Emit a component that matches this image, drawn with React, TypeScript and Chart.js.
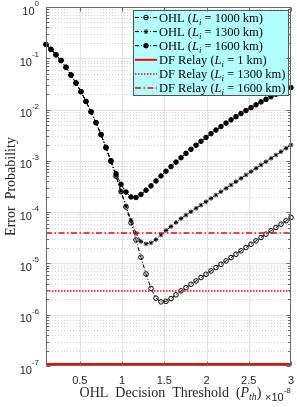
import React, { useEffect, useRef } from 'react';
import { Chart, registerables } from 'chart.js';

Chart.register(...registerables);

const W = 297;
const H = 407;

// OHL decision threshold (x 1e-8)
const thresholds = [
  0.100, 0.159, 0.218, 0.278, 0.337, 0.396, 0.455, 0.514, 0.573, 0.633,
  0.692, 0.751, 0.810, 0.869, 0.929, 0.988, 1.047, 1.106, 1.165, 1.224,
  1.284, 1.343, 1.402, 1.461, 1.520, 1.580, 1.639, 1.698, 1.757, 1.816,
  1.876, 1.935, 1.994, 2.053, 2.112, 2.171, 2.231, 2.290, 2.349, 2.408,
  2.467, 2.527, 2.586, 2.645, 2.704, 2.763, 2.822, 2.882, 2.941, 3.000,
];

const ohl1000 = [
  1.86e-1, 1.49e-1, 1.17e-1, 9.04e-2, 6.67e-2, 4.71e-2, 3.30e-2, 2.24e-2, 1.44e-2, 9.04e-3,
  5.57e-3, 3.26e-3, 1.80e-3, 9.73e-4, 5.01e-4, 2.51e-4, 1.26e-4, 6.17e-5, 2.87e-5, 1.32e-5,
  6.22e-6, 3.25e-6, 2.10e-6, 1.78e-6, 1.82e-6, 2.06e-6, 2.44e-6, 2.92e-6, 3.37e-6, 3.92e-6,
  4.56e-6, 5.30e-6, 6.15e-6, 7.14e-6, 8.30e-6, 9.64e-6, 1.12e-5, 1.30e-5, 1.51e-5, 1.76e-5,
  2.04e-5, 2.37e-5, 2.75e-5, 3.20e-5, 3.72e-5, 4.33e-5, 5.02e-5, 5.83e-5, 6.78e-5, 7.87e-5,
];

const ohl1300 = [
  1.86e-1, 1.49e-1, 1.17e-1, 9.04e-2, 6.67e-2, 4.71e-2, 3.30e-2, 2.24e-2, 1.44e-2, 9.04e-3,
  5.57e-3, 3.26e-3, 1.80e-3, 9.73e-4, 5.04e-4, 2.56e-4, 1.32e-4, 6.97e-5, 3.87e-5, 2.67e-5,
  2.41e-5, 2.52e-5, 2.92e-5, 3.59e-5, 4.39e-5, 5.25e-5, 6.31e-5, 7.50e-5, 8.77e-5, 1.02e-4,
  1.19e-4, 1.37e-4, 1.60e-4, 1.85e-4, 2.15e-4, 2.50e-4, 2.91e-4, 3.38e-4, 3.93e-4, 4.56e-4,
  5.30e-4, 6.17e-4, 7.16e-4, 8.32e-4, 9.64e-4, 1.12e-3, 1.30e-3, 1.51e-3, 1.76e-3, 2.04e-3,
];

const ohl1600 = [
  1.86e-1, 1.49e-1, 1.17e-1, 9.04e-2, 6.67e-2, 4.71e-2, 3.30e-2, 2.24e-2, 1.44e-2, 9.04e-3,
  5.57e-3, 3.26e-3, 1.84e-3, 1.01e-3, 5.62e-4, 3.47e-4, 2.46e-4, 1.98e-4, 1.93e-4, 2.21e-4,
  2.68e-4, 3.25e-4, 4.06e-4, 5.08e-4, 6.28e-4, 7.73e-4, 9.46e-4, 1.15e-3, 1.40e-3, 1.68e-3,
  2.02e-3, 2.41e-3, 2.86e-3, 3.39e-3, 3.99e-3, 4.67e-3, 5.45e-3, 6.31e-3, 7.28e-3, 8.36e-3,
  9.55e-3, 1.09e-2, 1.24e-2, 1.41e-2, 1.58e-2, 1.78e-2, 1.99e-2, 2.21e-2, 2.44e-2, 2.69e-2,
];

// DF relay error probabilities (constant in threshold) for L_i = 1, 1300, 1600 km
const dfRelayLevels = [1.1e-7, 2.9e-6, 3.9e-5];

const xRange = [0.1, 3];
const yRange = [1e-7, 1];
const xTicks = [0.5, 1, 1.5, 2, 2.5, 3];
const xTickLabels = ['0.5', '1', '1.5', '2', '2.5', '3'];
const yDecadeExponents = [0, -1, -2, -3, -4, -5, -6, -7];
const yTickLabels = ['0', '-1', '-2', '-3', '-4', '-5', '-6', '-7'];
const legendNames = ['OHL', 'OHL', 'OHL', 'DF Relay', 'DF Relay', 'DF Relay'];
const legendDistances = ['1000', '1300', '1600', '1', '1300', '1600'];

const SERIF = '"Liberation Serif", "DejaVu Serif", serif';
const SANS = '"Liberation Sans", Arial, sans-serif';
const AXIS_COLOR = '#6a6a6a';
const TEXT_COLOR = '#262626';

type Seg = { t: string; italic?: boolean; sub?: boolean };

function drawRich(ctx: any, x: number, y: number, segs: Seg[], size: number, measureOnly = false): number {
  let cx = x;
  for (const s of segs) {
    const sz = s.sub ? size * 0.7 : size;
    ctx.font = `${s.italic ? 'italic ' : ''}${sz}px ${SERIF}`;
    if (!measureOnly) ctx.fillText(s.t, cx, y + (s.sub ? size * 0.25 : 0));
    cx += ctx.measureText(s.t).width;
  }
  return cx - x;
}

function drawMarker(ctx: any, style: string, x: number, y: number, r: number, filled: boolean) {
  ctx.beginPath();
  ctx.setLineDash([]);
  if (style === 'circle') {
    ctx.arc(x, y, r, 0, Math.PI * 2);
    if (filled) ctx.fill();
    ctx.stroke();
  } else if (style === 'star') {
    ctx.moveTo(x - r, y); ctx.lineTo(x + r, y);
    ctx.moveTo(x, y - r); ctx.lineTo(x, y + r);
    const d = r * Math.SQRT1_2;
    ctx.moveTo(x - d, y - d); ctx.lineTo(x + d, y + d);
    ctx.moveTo(x - d, y + d); ctx.lineTo(x + d, y - d);
    ctx.stroke();
  }
}

const matlabAxes = {
  id: 'matlabAxes',
  beforeDatasetsDraw(chart: any) {
    const { ctx, chartArea: a, scales } = chart;
    const xs = scales.x, ys = scales.y;
    ctx.save();
    ctx.beginPath();
    ctx.rect(a.left, a.top, a.right - a.left, a.bottom - a.top);
    ctx.clip();
    ctx.lineWidth = 1;
    // minor y grid (dotted)
    ctx.strokeStyle = '#d2d2d2';
    ctx.setLineDash([1, 2]);
    for (const e of yDecadeExponents) {
      if (e === 0) continue;
      for (let m = 2; m <= 9; m++) {
        const y = Math.round(ys.getPixelForValue(m * Math.pow(10, e))) + 0.5;
        ctx.beginPath(); ctx.moveTo(a.left, y); ctx.lineTo(a.right, y); ctx.stroke();
      }
    }
    // major grid
    ctx.setLineDash([]);
    ctx.strokeStyle = '#e2e2e2';
    for (const e of yDecadeExponents) {
      const y = Math.round(ys.getPixelForValue(Math.pow(10, e))) + 0.5;
      ctx.beginPath(); ctx.moveTo(a.left, y); ctx.lineTo(a.right, y); ctx.stroke();
    }
    for (const t of xTicks) {
      const x = Math.round(xs.getPixelForValue(t)) + 0.5;
      ctx.beginPath(); ctx.moveTo(x, a.top); ctx.lineTo(x, a.bottom); ctx.stroke();
    }
    ctx.restore();
  },
  afterDatasetsDraw(chart: any) {
    const { ctx, scales } = chart;
    const xs = scales.x, ys = scales.y;
    ctx.save();
    // ---- legend ----
    const lx = 133, ly = 10, lw = 155, lh = 85;
    ctx.fillStyle = '#b3ffff';
    ctx.fillRect(lx, ly, lw, lh);
    ctx.strokeStyle = '#555';
    ctx.lineWidth = 1;
    ctx.setLineDash([]);
    ctx.strokeRect(lx + 0.5, ly + 0.5, lw, lh);
    chart.data.datasets.forEach((ds: any, row: number) => {
      const cy = 17.5 + row * 14.1;
      ctx.save();
      ctx.strokeStyle = ds.borderColor;
      ctx.lineWidth = ds.borderWidth;
      ctx.setLineDash(ds.borderDash || []);
      ctx.beginPath(); ctx.moveTo(135, cy); ctx.lineTo(157, cy); ctx.stroke();
      if (ds.pointRadius > 0) {
        ctx.lineWidth = 1;
        ctx.strokeStyle = '#000';
        ctx.fillStyle = '#000';
        drawMarker(ctx, ds.pointStyle, 146, cy, ds.pointRadius, ds.pointBackgroundColor === '#000');
      }
      ctx.restore();
      ctx.fillStyle = '#000';
      ctx.textBaseline = 'alphabetic';
      ctx.textAlign = 'left';
      drawRich(ctx, 159, cy + 4, [
        { t: `${legendNames[row]} (` },
        { t: 'L', italic: true },
        { t: 'i', italic: true, sub: true },
        { t: ` = ${legendDistances[row]} km)` },
      ], 12.5);
    });

    // ---- axes box ----
    const L = 46.5, R = 290.5, T = 7.5, B = 365.5;
    ctx.strokeStyle = AXIS_COLOR;
    ctx.lineWidth = 1;
    ctx.setLineDash([]);
    ctx.strokeRect(L, T, R - L, B - T);
    ctx.beginPath();
    for (const t of xTicks) {
      const x = Math.round(xs.getPixelForValue(t)) + 0.5;
      ctx.moveTo(x, B); ctx.lineTo(x, B - 4);
      ctx.moveTo(x, T); ctx.lineTo(x, T + 4);
    }
    for (const e of yDecadeExponents) {
      const y = Math.round(ys.getPixelForValue(Math.pow(10, e))) + 0.5;
      ctx.moveTo(L, y); ctx.lineTo(L + 4, y);
      ctx.moveTo(R, y); ctx.lineTo(R - 4, y);
      if (e === 0) continue;
      for (let m = 2; m <= 9; m++) {
        const ym = Math.round(ys.getPixelForValue(m * Math.pow(10, e))) + 0.5;
        ctx.moveTo(L, ym); ctx.lineTo(L + 2.5, ym);
        ctx.moveTo(R, ym); ctx.lineTo(R - 2.5, ym);
      }
    }
    ctx.stroke();

    // ---- tick labels ----
    ctx.fillStyle = TEXT_COLOR;
    ctx.font = `11px ${SANS}`;
    ctx.textAlign = 'center';
    ctx.textBaseline = 'alphabetic';
    xTicks.forEach((t, i) => {
      ctx.fillText(xTickLabels[i], xs.getPixelForValue(t), 383.5);
    });
    yDecadeExponents.forEach((e, i) => {
      const y = ys.getPixelForValue(Math.pow(10, e));
      ctx.font = `8px ${SANS}`;
      const we = ctx.measureText(yTickLabels[i]).width;
      ctx.font = `11px ${SANS}`;
      const wb = ctx.measureText('10').width;
      const right = 39;
      ctx.textAlign = 'left';
      ctx.fillText('10', right - we - wb, y + 7.5);
      ctx.font = `8px ${SANS}`;
      ctx.fillText(yTickLabels[i], right - we, y - 1);
    });

    // ---- axis titles ----
    ctx.fillStyle = TEXT_COLOR;
    const xSegs: Seg[] = [
      { t: 'OHL  Decision  Threshold  (' },
      { t: 'P', italic: true },
      { t: 'th', italic: true, sub: true },
      { t: ')' },
    ];
    const tw = drawRich(ctx, 0, 0, xSegs, 14, true);
    ctx.textAlign = 'left';
    drawRich(ctx, 170.5 - tw / 2, 396.5, xSegs, 14);
    ctx.font = `11px ${SANS}`;
    ctx.fillText('\u00d710', 265, 400.5);
    const wm = ctx.measureText('\u00d710').width;
    ctx.font = `8px ${SANS}`;
    ctx.fillText('-8', 265 + wm, 392.5);

    ctx.save();
    ctx.translate(15, 186.5);
    ctx.rotate(-Math.PI / 2);
    ctx.textAlign = 'center';
    ctx.font = `14px ${SERIF}`;
    ctx.fillText('Error  Probability', 0, 0);
    ctx.restore();

    ctx.restore();
  },
};

export default function App() {
  const ref = useRef<HTMLCanvasElement | null>(null);
  useEffect(() => {
    if (!ref.current) return;
    const pts = (arr: number[]) => thresholds.map((x, i) => ({ x, y: arr[i] }));
    const flat = (v: number) => [{ x: xRange[0], y: v }, { x: xRange[1], y: v }];
    const ohlDash = [4, 2, 1, 2];
    const R = 2.3;
    const chart = new Chart(ref.current, {
      type: 'line',
      data: {
        datasets: [
          {
            label: 'OHL (Li = 1000 km)', data: pts(ohl1000), order: 3,
            borderColor: '#000', borderWidth: 1, borderDash: ohlDash,
            pointStyle: 'circle', pointRadius: R, pointBorderWidth: 1,
            pointBorderColor: '#000', pointBackgroundColor: 'rgba(0,0,0,0)', clip: false,
          },
          {
            label: 'OHL (Li = 1300 km)', data: pts(ohl1300), order: 2,
            borderColor: '#000', borderWidth: 1, borderDash: ohlDash,
            pointStyle: 'star', pointRadius: R, pointBorderWidth: 1,
            pointBorderColor: '#000', pointBackgroundColor: '#000', clip: false,
          },
          {
            label: 'OHL (Li = 1600 km)', data: pts(ohl1600), order: 1,
            borderColor: '#000', borderWidth: 1, borderDash: ohlDash,
            pointStyle: 'circle', pointRadius: R, pointBorderWidth: 1,
            pointBorderColor: '#000', pointBackgroundColor: '#000', clip: false,
          },
          {
            label: 'DF Relay (Li = 1 km)', data: flat(dfRelayLevels[0]), order: 0,
            borderColor: '#ff0000', borderWidth: 2, borderDash: [],
            pointRadius: 0, clip: false,
          },
          {
            label: 'DF Relay (Li = 1300 km)', data: flat(dfRelayLevels[1]), order: 0,
            borderColor: '#ff0000', borderWidth: 1.5, borderDash: [1.5, 1.5],
            pointRadius: 0, clip: false,
          },
          {
            label: 'DF Relay (Li = 1600 km)', data: flat(dfRelayLevels[2]), order: 0,
            borderColor: '#ff0000', borderWidth: 1.5, borderDash: [6, 2.5, 1.5, 2.5],
            pointRadius: 0, clip: false,
          },
        ] as any,
      },
      options: {
        responsive: false,
        animation: false,
        events: [],
        layout: { padding: { left: 46, right: 6, top: 7, bottom: 41 } },
        elements: { line: { tension: 0, fill: false } },
        plugins: { legend: { display: false }, tooltip: { enabled: false } },
        scales: {
          x: { type: 'linear', min: xRange[0], max: xRange[1], display: false },
          y: { type: 'logarithmic', min: yRange[0], max: yRange[1], display: false },
        },
      } as any,
      plugins: [matlabAxes],
    });
    return () => chart.destroy();
  }, []);
  return (
    <div style={{ position: 'fixed', left: 0, top: 0, width: W, height: H, background: '#fff' }}>
      <canvas ref={ref} width={W} height={H} style={{ display: 'block', width: W, height: H }} />
    </div>
  );
}
